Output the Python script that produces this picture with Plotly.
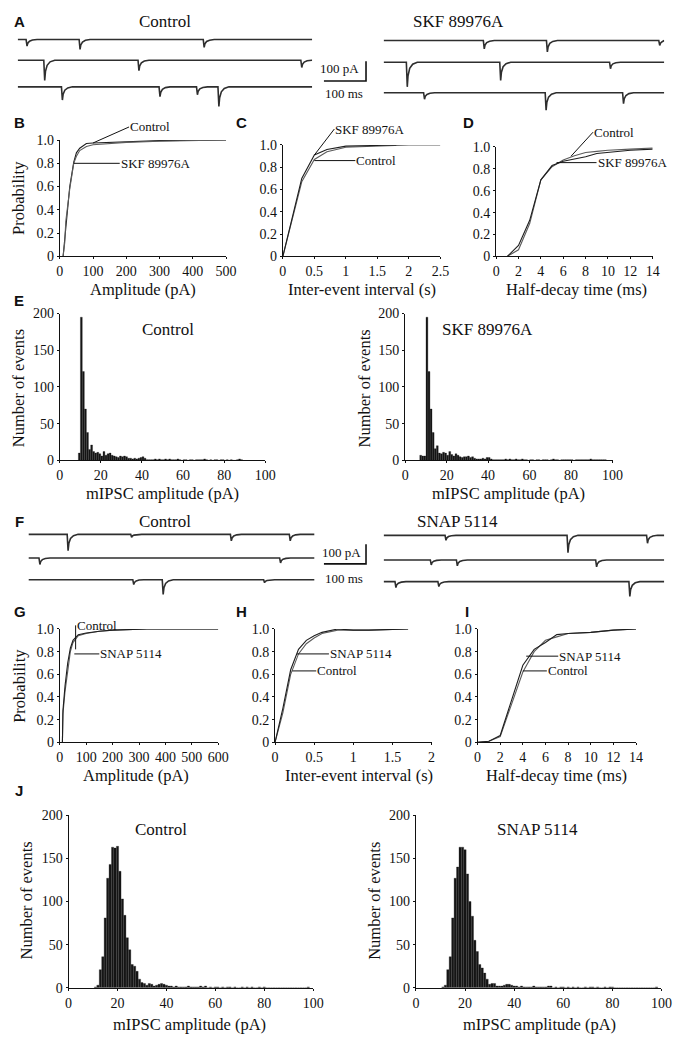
import plotly.graph_objects as go

W, H = 695, 1048
SERIF = "Liberation Serif"
SANS = "Liberation Sans"
INK = "#111111"
DARK = "#1e1e1e"
MID = "#5c5c5c"

# ---------------- data ----------------
A_control_window_ms = 700
A_skf_window_ms = 667
F_control_window_ms = 680
F_snap_window_ms = 667
SCALE_MS = 100
SCALE_PA = 100

# spontaneous events per sweep: (time ms, amplitude pA)
A_control_events = [
    [(21, 33), (147, 50), (442, 40)],
    [(63, 103), (287, 53), (674, 37)],
    [(105, 67), (337, 50), (426, 40), (477, 100)],
]
A_skf_events = [
    [(238, 42), (388, 58), (655, 25)],
    [(55, 125), (277, 92), (538, 33)],
    [(96, 33), (385, 88), (569, 55)],
]
F_control_events = [
    [(93, 83), (244, 15), (481, 33), (621, 33)],
    [(26, 33), (598, 25)],
    [(249, 25), (319, 75), (560, 15)],
]
F_snap_events = [
    [(147, 25), (437, 88), (626, 40)],
    [(112, 25), (174, 30), (505, 35)],
    [(28, 30), (130, 25), (584, 75)],
]

# cumulative probability curves
B_control_x = [10, 15, 18, 30, 42, 50, 60, 80, 100, 150, 200, 300, 500]
B_control_y = [0, 0.15, 0.28, 0.6, 0.81, 0.89, 0.93, 0.97, 0.975, 0.98, 0.99, 0.995, 1.0]
B_skf_x = [10, 15, 18, 30, 42, 50, 60, 80, 100, 150, 200, 300, 500]
B_skf_y = [0, 0.12, 0.3, 0.58, 0.8, 0.86, 0.91, 0.945, 0.96, 0.97, 0.98, 0.99, 1.0]

C_skf_x = [0, 0.2, 0.3, 0.5, 0.7, 1.0, 1.5, 1.8]
C_skf_y = [0, 0.48, 0.7, 0.91, 0.96, 0.99, 1.0, 1.0]
C_control_x = [0, 0.2, 0.3, 0.5, 0.7, 1.0, 1.5, 2.0, 2.5]
C_control_y = [0, 0.46, 0.67, 0.87, 0.94, 0.98, 0.99, 1.0, 1.0]

D_control_x = [1, 2, 3, 4, 5, 6, 7, 8, 9, 10, 12, 14]
D_control_y = [0, 0.06, 0.3, 0.7, 0.82, 0.88, 0.92, 0.95, 0.96, 0.97, 0.98, 0.99]
D_skf_x = [1, 2, 3, 4, 5, 6, 7, 8, 9, 10, 12, 14]
D_skf_y = [0, 0.1, 0.33, 0.7, 0.83, 0.87, 0.89, 0.91, 0.94, 0.95, 0.97, 0.98]

G_control_x = [10, 10, 12, 20, 30, 40, 50, 70, 100, 150, 200, 330, 600]
G_control_y = [0, 0.18, 0.25, 0.45, 0.65, 0.8, 0.88, 0.94, 0.96, 0.98, 0.99, 1.0, 1.0]
G_snap_x = [10, 10, 12, 20, 30, 40, 50, 70, 100, 150, 200, 330, 600]
G_snap_y = [0, 0.2, 0.28, 0.5, 0.7, 0.83, 0.9, 0.95, 0.965, 0.98, 0.99, 1.0, 1.0]

H_snap_x = [0, 0.1, 0.2, 0.3, 0.4, 0.5, 0.6, 0.8, 1.0, 1.2, 1.7]
H_snap_y = [0, 0.3, 0.64, 0.82, 0.9, 0.94, 0.97, 1.0, 0.99, 0.99, 1.0]
H_control_x = [0, 0.1, 0.2, 0.3, 0.4, 0.5, 0.6, 0.8, 1.0, 1.2, 1.7]
H_control_y = [0, 0.26, 0.6, 0.78, 0.87, 0.92, 0.96, 0.99, 0.99, 0.99, 1.0]

I_snap_x = [0, 1, 2, 3, 4, 5, 6, 7, 8, 10, 12, 14]
I_snap_y = [0, 0.01, 0.06, 0.38, 0.68, 0.82, 0.88, 0.95, 0.96, 0.97, 0.99, 1.0]
I_control_x = [0, 1, 2, 3, 4, 5, 6, 7, 8, 10, 12, 14]
I_control_y = [0, 0.01, 0.05, 0.33, 0.62, 0.8, 0.9, 0.93, 0.96, 0.97, 0.99, 1.0]

# amplitude histograms (1 pA bins)
E_control_first_bin = 9
E_control_counts = [10, 195, 121, 70, 38, 15, 21, 12, 10, 11, 9, 6, 12, 7, 9, 10, 7, 6, 5, 4,
                    6, 5, 6, 5, 3, 3, 2, 3, 2, 3, 4, 5, 3, 1, 1, 1, 1, 2, 1, 2,
                    1, 1, 2, 1, 2, 1, 1, 1, 2, 1, 0, 1, 1, 0, 1, 1, 0, 1, 1, 1,
                    1, 2, 1, 0, 1, 0, 1, 1, 0, 1, 1, 0, 1, 0, 1, 0, 0, 1, 2, 1]
E_skf_first_bin = 7
E_skf_counts = [7, 6, 6, 195, 121, 70, 38, 16, 20, 10, 9, 11, 10, 7, 12, 8, 6, 9, 7, 5,
                4, 5, 5, 6, 4, 5, 3, 2, 2, 2, 3, 2, 4, 4, 2, 1, 1, 1, 1, 1,
                1, 2, 1, 2, 1, 1, 2, 1, 1, 2, 1, 1, 0, 1, 1, 0, 1, 1, 0, 1,
                1, 1, 0, 1, 2, 1, 1, 0, 1, 1, 1, 1, 1, 1, 0, 1, 1, 1, 1, 1,
                1, 1, 2, 1, 1, 1, 1, 1, 1, 1]
J_control_first_bin = 11
J_control_counts = [1, 3, 21, 36, 81, 127, 143, 163, 162, 164, 135, 103, 84, 58, 44, 27, 25, 19, 10, 6,
                    5, 3, 5, 4, 2, 3, 4, 5, 4, 3, 2, 2, 1, 2, 1, 1, 1, 1, 2, 1,
                    1, 1, 1, 2, 1, 2, 0, 1, 0, 1, 1, 0, 1, 0, 1, 1, 0, 1, 0, 0,
                    1, 0, 1, 0, 1, 0, 0, 1, 0, 1, 0, 0, 0, 0, 0, 0, 0, 0, 0, 0,
                    0, 0, 0, 0, 0, 0, 0, 1]
J_snap_first_bin = 11
J_snap_counts = [1, 3, 21, 36, 81, 127, 140, 163, 163, 160, 132, 100, 83, 55, 42, 27, 23, 17, 10, 4,
                 5, 5, 2, 2, 2, 3, 4, 4, 3, 2, 2, 1, 2, 1, 1, 1, 1, 2, 1, 1,
                 1, 1, 1, 2, 2, 0, 1, 0, 1, 1, 0, 1, 0, 1, 0, 1, 0, 0, 1, 0,
                 1, 1, 0, 1, 0, 0, 1, 0, 1, 1, 0, 0, 0, 0, 0, 0, 0, 0, 0, 0,
                 0, 0, 0, 0, 0, 0, 0, 1]

PROB_TICKS = [0, 0.2, 0.4, 0.6, 0.8, 1.0]
PROB_TEXT = ["0", "0.2", "0.4", "0.6", "0.8", "1.0"]
COUNT_TICKS = [0, 50, 100, 150, 200]
AMP100_TICKS = [0, 20, 40, 60, 80, 100]

TITLE_SIZE = 16.5
HEAD_SIZE = 17
TICK_SIZE = 14
NOTE_SIZE = 13

# ---------------- helpers ----------------
fig = go.Figure()
layout_axes = {}
annotations = []
counter = [0]


def add_axes(xmap, ymap, xr, yr, xstyle=None, ystyle=None):
    counter[0] += 1
    i = counter[0]
    (xp0, xv0), (xp1, xv1) = xmap
    (yp0, yv0), (yp1, yv1) = ymap
    fx = lambda v: xp0 + (v - xv0) * (xp1 - xp0) / (xv1 - xv0)
    fy = lambda v: yp0 + (v - yv0) * (yp1 - yp0) / (yv1 - yv0)
    dx = [max(0, fx(xr[0]) / W), min(1, fx(xr[1]) / W)]
    dy = [max(0, 1 - fy(yr[0]) / H), min(1, 1 - fy(yr[1]) / H)]
    sfx = "" if i == 1 else str(i)
    xa = dict(domain=dx, range=list(xr), anchor="y" + sfx, fixedrange=True)
    ya = dict(domain=dy, range=list(yr), anchor="x" + sfx, fixedrange=True)
    xa.update(xstyle or dict(visible=False))
    ya.update(ystyle or dict(visible=False))
    layout_axes["xaxis" + sfx] = xa
    layout_axes["yaxis" + sfx] = ya
    return "x" + sfx, "y" + sfx


def axstyle(tickvals, ticktext=None):
    return dict(
        visible=True, showline=True, linecolor=INK, linewidth=1, ticks="outside",
        ticklen=2, tickwidth=1, tickcolor=INK, showgrid=False, zeroline=False,
        tickmode="array", tickvals=tickvals,
        ticktext=ticktext if ticktext else [str(t) for t in tickvals],
        tickfont=dict(family=SERIF, size=TICK_SIZE, color=INK),
    )


def text(xp, yp, s, size=TITLE_SIZE, family=SERIF, angle=0, bold=False, xanchor="center"):
    annotations.append(dict(
        xref="paper", yref="paper", x=xp / W, y=1 - yp / H, text=("<b>%s</b>" % s) if bold else s,
        showarrow=False, xanchor=xanchor, yanchor="middle", textangle=angle,
        font=dict(family=family, size=size, color=INK),
    ))


def leader(xa, ya, x, y, ax, ay, s):
    annotations.append(dict(
        xref=xa, yref=ya, x=x, y=y, ax=ax, ay=ay, text=s, showarrow=True,
        arrowhead=0, arrowwidth=1, arrowcolor=INK, xanchor="left", yanchor="middle",
        standoff=0, startstandoff=0, borderpad=0,
        font=dict(family=SERIF, size=NOTE_SIZE, color=INK),
    ))


# rise/decay template of a single synaptic event (fraction of its amplitude)
EVENT_SHAPE = ((-1.0, 0.0), (1.2, -1.0), (3.0, -0.55), (7.0, -0.25), (14.0, -0.08), (25.0, 0.0))


def sweep_xy(events, T):
    pts = [(0.0, 0.0), (float(T), 0.0)]
    for t, a in events:
        for dt, f in EVENT_SHAPE:
            tt = t + dt
            if 0 <= tt <= T:
                pts.append((tt, f * a))
    pts.sort()
    return [p[0] for p in pts], [p[1] for p in pts]


PX_PER_MS = 0.43
PX_PER_PA = 0.2


def sweeps(events_list, window, x_left, baselines):
    for events, base in zip(events_list, baselines):
        xa, ya = add_axes(((x_left, 0), (x_left + PX_PER_MS * 100, 100)),
                          ((base, 0), (base + PX_PER_PA * 100, -100)),
                          (0, window), (-170, 25))
        tx, ty = sweep_xy(events, window)
        fig.add_trace(go.Scatter(x=tx, y=ty, mode="lines", xaxis=xa, yaxis=ya,
                                 line=dict(color="#2e2e2e", width=1.6), hoverinfo="skip"))


def scale_bar(x0, ybar):
    xa, ya = add_axes(((x0, 0), (x0 + PX_PER_MS * 100, 100)),
                      ((ybar, 0), (ybar - PX_PER_PA * 100, 100)), (-10, 110), (-10, 110))
    fig.add_trace(go.Scatter(x=[0, SCALE_MS, SCALE_MS], y=[0, 0, SCALE_PA], mode="lines",
                             xaxis=xa, yaxis=ya, line=dict(color=INK, width=1.6), hoverinfo="skip"))


def cdf(xmap, ymap, xr, xticks, curves, xtext=None):
    xa, ya = add_axes(xmap, ymap, xr, (0, 1.0), axstyle(xticks, xtext), axstyle(PROB_TICKS, PROB_TEXT))
    for cx, cy, col in curves:
        fig.add_trace(go.Scatter(x=cx, y=cy, mode="lines", xaxis=xa, yaxis=ya,
                                 line=dict(color=col, width=1.1), hoverinfo="skip"))
    return xa, ya


def hist(xmap, ymap, first, counts):
    xa, ya = add_axes(xmap, ymap, (0, 100), (0, 200), axstyle(AMP100_TICKS), axstyle(COUNT_TICKS))
    centers = [first + i + 0.5 for i in range(len(counts))]
    fig.add_trace(go.Bar(x=centers, y=counts, width=0.9, xaxis=xa, yaxis=ya,
                         marker=dict(color="#161616", line=dict(width=0.3, color="#161616")),
                         hoverinfo="skip"))
    return xa, ya


# ---------------- panel A ----------------
text(16, 15, "A", size=15, family=SANS, bold=True)
text(165, 15, "Control", size=HEAD_SIZE)
text(465, 15, "SKF 89976A", size=HEAD_SIZE)
sweeps(A_control_events, A_control_window_ms, 14, [33, 54, 81])
sweeps(A_skf_events, A_skf_window_ms, 388, [34, 56, 87])
scale_bar(327, 75)
text(365, 62, "100 pA", size=NOTE_SIZE, xanchor="right")
text(347, 88, "100 ms", size=NOTE_SIZE)

# ---------------- panels B, C, D ----------------
text(16, 117, "B", size=15, family=SANS, bold=True)
text(243, 117, "C", size=15, family=SANS, bold=True)
text(475, 117, "D", size=15, family=SANS, bold=True)

bx, by = cdf(((57, 0), (227, 500)), ((253, 0), (135, 1.0)), (0, 500), [0, 100, 200, 300, 400, 500],
             [(B_control_x, B_control_y, DARK), (B_skf_x, B_skf_y, MID)])
leader(bx, by, 100, 0.975, 36, -16, "Control")
leader(bx, by, 42, 0.8, 46, 0, "SKF 89976A")
text(142, 287, "Amplitude (pA)")
text(15, 194, "Probability", angle=-90)

cx_, cy_ = cdf(((285, 0), (446, 2.5)), ((253, 0), (140, 1.0)), (0, 2.5), [0, 0.5, 1, 1.5, 2, 2.5],
               [(C_control_x, C_control_y, MID), (C_skf_x, C_skf_y, DARK)],
               ["0", "0.5", "1", "1.5", "2", "2.5"])
leader(cx_, cy_, 0.5, 0.91, 20, -26, "SKF 89976A")
leader(cx_, cy_, 0.5, 0.86, 41, 0, "Control")
text(366, 287, "Inter-event interval (s)")

dx_, dy_ = cdf(((503, 0), (663, 14)), ((253, 0), (142, 1.0)), (0, 14), [0, 2, 4, 6, 8, 10, 12, 14],
               [(D_control_x, D_control_y, MID), (D_skf_x, D_skf_y, DARK)])
leader(dx_, dy_, 6.7, 0.916, 22, -24, "Control")
leader(dx_, dy_, 5.4, 0.857, 40, 0, "SKF 89976A")
text(585, 287, "Half-decay time (ms)")

# ---------------- panel E ----------------
text(15, 298, "E", size=15, family=SANS, bold=True)
hist(((57, 0), (267, 100)), ((460, 0), (311, 200)), E_control_first_bin, E_control_counts)
hist(((410, 0), (622, 100)), ((460, 0), (311, 200)), E_skf_first_bin, E_skf_counts)
text(168, 327, "Control", size=HEAD_SIZE)
text(494, 327, "SKF 89976A", size=HEAD_SIZE)
text(162, 494, "mIPSC amplitude (pA)")
text(516, 494, "mIPSC amplitude (pA)")
text(15, 387, "Number of events", angle=-90)
text(368, 387, "Number of events", angle=-90)

# ---------------- panel F ----------------
text(16, 522, "F", size=15, family=SANS, bold=True)
text(165, 522, "Control", size=HEAD_SIZE)
text(463, 522, "SNAP 5114", size=HEAD_SIZE)
sweeps(F_control_events, F_control_window_ms, 25, [535, 559, 581])
sweeps(F_snap_events, F_snap_window_ms, 388, [536, 561, 583])
scale_bar(327, 565)
text(367, 553, "100 pA", size=NOTE_SIZE, xanchor="right")
text(347, 580, "100 ms", size=NOTE_SIZE)

# ---------------- panels G, H, I ----------------
text(16, 613, "G", size=15, family=SANS, bold=True)
text(243, 613, "H", size=15, family=SANS, bold=True)
text(473, 613, "I", size=15, family=SANS, bold=True)

gx, gy = cdf(((57, 0), (219, 600)), ((746, 0), (631, 1.0)), (0, 600), [0, 100, 200, 300, 400, 500, 600],
             [(G_control_x, G_control_y, MID), (G_snap_x, G_snap_y, DARK)])
leader(gx, gy, 60, 0.82, 0, -24, "Control")
leader(gx, gy, 55, 0.78, 25, 0, "SNAP 5114")
text(135, 780, "Amplitude (pA)")
text(15, 689, "Probability", angle=-90)

hx, hy = cdf(((277, 0), (437, 2)), ((746, 0), (631, 1.0)), (0, 2), [0, 0.5, 1, 1.5, 2],
             [(H_control_x, H_control_y, MID), (H_snap_x, H_snap_y, DARK)],
             ["0", "0.5", "1", "1.5", "2"])
leader(hx, hy, 0.28, 0.78, 32, 0, "SNAP 5114")
leader(hx, hy, 0.22, 0.63, 24, 0, "Control")
text(363, 780, "Inter-event interval (s)")

ix, iy = cdf(((484, 0), (646, 14)), ((746, 0), (631, 1.0)), (0, 14), [0, 2, 4, 6, 8, 10, 12, 14],
             [(I_control_x, I_control_y, MID), (I_snap_x, I_snap_y, DARK)])
leader(ix, iy, 4.3, 0.76, 32, 0, "SNAP 5114")
leader(ix, iy, 4.0, 0.63, 24, 0, "Control")
text(565, 780, "Half-decay time (ms)")

# ---------------- panel J ----------------
text(15, 795, "J", size=15, family=SANS, bold=True)
hist(((66, 0), (316, 100)), ((995, 0), (820, 200)), J_control_first_bin - 0.5, J_control_counts)
hist(((421, 0), (672, 100)), ((995, 0), (820, 200)), J_snap_first_bin - 0.5, J_snap_counts)
text(160, 834, "Control", size=HEAD_SIZE)
text(545, 834, "SNAP 5114", size=HEAD_SIZE)
text(190, 1032, "mIPSC amplitude (pA)")
text(547, 1032, "mIPSC amplitude (pA)")
text(23, 907, "Number of events", angle=-90)
text(378, 907, "Number of events", angle=-90)

fig.update_layout(
    width=W, height=H, margin=dict(l=0, r=0, t=0, b=0),
    paper_bgcolor="white", plot_bgcolor="rgba(0,0,0,0)",
    showlegend=False, bargap=0, annotations=annotations,
    font=dict(family=SERIF, color=INK),
    **layout_axes,
)
fig.write_html(
    "out.html",
    config={"staticPlot": True},
    post_script="document.body.style.margin='0';document.body.style.padding='0';",
)
